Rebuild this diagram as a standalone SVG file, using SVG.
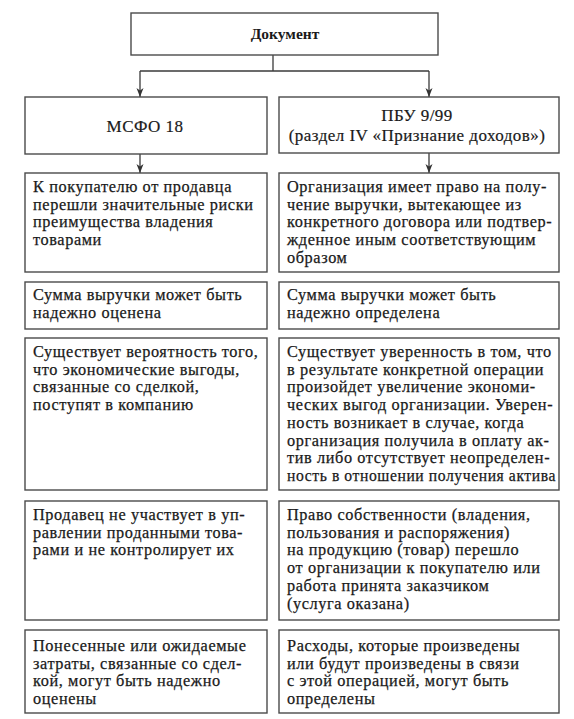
<svg xmlns="http://www.w3.org/2000/svg" width="574" height="719" viewBox="0 0 574 719">
<defs>
<marker id="arr" markerUnits="userSpaceOnUse" markerWidth="10" markerHeight="8" refX="9" refY="3.5" orient="auto">
<path d="M0,0 L9,3.5 L0,7 L2.5,3.5 z" fill="#333"/>
</marker>
<style>
.box{fill:#fff;stroke:#4a4a4a;stroke-width:1.4}
.t{font-size:16.3px;letter-spacing:0.6px;fill:#1a1a1a;stroke:#1a1a1a;stroke-width:0.25}
.h{font-size:17px;letter-spacing:0.45px;fill:#1a1a1a;stroke:#1a1a1a;stroke-width:0.2;text-anchor:middle}
.b{font-size:15.5px;font-weight:bold;fill:#1a1a1a;text-anchor:middle}
.c{fill:none;stroke:#3a3a3a;stroke-width:1.3}
</style>
</defs>
<rect width="574" height="719" fill="#fff"/>
<g id="connectors">
<path class="c" d="M273,55 V71"/>
<path class="c" d="M140,71 H429"/>
<path class="c" d="M140,71 V97" marker-end="url(#arr)"/>
<path class="c" d="M429,71 V97" marker-end="url(#arr)"/>
<path class="c" d="M140,154 V173" marker-end="url(#arr)"/>
<path class="c" d="M429,153 V173" marker-end="url(#arr)"/>
</g>
<g font-family="Liberation Serif, serif">
<g id="doc">
<rect class="box" x="131" y="13" width="307" height="42"/>
<text class="b" x="285" y="39">Документ</text>
</g>
<g id="ifrs">
<rect class="box" x="25" y="97" width="242" height="57"/>
<text class="h" x="145" y="132">МСФО 18</text>
</g>
<g id="pbu">
<rect class="box" x="279" y="97" width="280" height="56"/>
<text class="h" x="417" y="121">ПБУ 9/99</text>
<text class="h" x="417" y="141">(раздел IV «Признание доходов»)</text>
</g>
<g id="l1">
<rect class="box" x="25" y="173" width="242" height="99"/>
<text class="t" x="33" y="192"><tspan x="33">К покупателю от продавца</tspan><tspan x="33" dy="17.7">перешли значительные риски</tspan><tspan x="33" dy="17.7">преимущества владения</tspan><tspan x="33" dy="17.7">товарами</tspan></text>
</g>
<g id="r1">
<rect class="box" x="279" y="173" width="280" height="99"/>
<text class="t" x="287" y="192"><tspan x="287">Организация имеет право на полу-</tspan><tspan x="287" dy="17.7">чение выручки, вытекающее из</tspan><tspan x="287" dy="17.7">конкретного договора или подтвер-</tspan><tspan x="287" dy="17.7">жденное иным соответствующим</tspan><tspan x="287" dy="17.7">образом</tspan></text>
</g>
<g id="l2">
<rect class="box" x="25" y="282" width="242" height="47"/>
<text class="t" x="33" y="300"><tspan x="33">Сумма выручки может быть</tspan><tspan x="33" dy="17.7">надежно оценена</tspan></text>
</g>
<g id="r2">
<rect class="box" x="279" y="282" width="280" height="47"/>
<text class="t" x="287" y="300"><tspan x="287">Сумма выручки может быть</tspan><tspan x="287" dy="17.7">надежно определена</tspan></text>
</g>
<g id="l3">
<rect class="box" x="25" y="338" width="242" height="152"/>
<text class="t" x="33" y="357"><tspan x="33">Существует вероятность того,</tspan><tspan x="33" dy="17.7">что экономические выгоды,</tspan><tspan x="33" dy="17.7">связанные со сделкой,</tspan><tspan x="33" dy="17.7">поступят в компанию</tspan></text>
</g>
<g id="r3">
<rect class="box" x="279" y="338" width="280" height="152"/>
<text class="t" x="287" y="357"><tspan x="287">Существует уверенность в том, что</tspan><tspan x="287" dy="17.7">в результате конкретной операции</tspan><tspan x="287" dy="17.7">произойдет увеличение экономи-</tspan><tspan x="287" dy="17.7">ческих выгод организации. Уверен-</tspan><tspan x="287" dy="17.7">ность возникает в случае, когда</tspan><tspan x="287" dy="17.7">организация получила в оплату ак-</tspan><tspan x="287" dy="17.7">тив либо отсутствует неопределен-</tspan></text>
<text class="t" x="287" y="480.9" textLength="269" lengthAdjust="spacingAndGlyphs">ность в отношении получения актива</text>
</g>
<g id="l4">
<rect class="box" x="25" y="501" width="242" height="119"/>
<text class="t" x="33" y="520"><tspan x="33">Продавец не участвует в уп-</tspan><tspan x="33" dy="17.7">равлении проданными това-</tspan><tspan x="33" dy="17.7">рами и не контролирует их</tspan></text>
</g>
<g id="r4">
<rect class="box" x="279" y="501" width="280" height="119"/>
<text class="t" x="287" y="520"><tspan x="287">Право собственности (владения,</tspan><tspan x="287" dy="17.7">пользования и распоряжения)</tspan><tspan x="287" dy="17.7">на продукцию (товар) перешло</tspan><tspan x="287" dy="17.7">от организации к покупателю или</tspan><tspan x="287" dy="17.7">работа принята заказчиком</tspan><tspan x="287" dy="17.7">(услуга оказана)</tspan></text>
</g>
<g id="l5">
<rect class="box" x="25" y="630" width="242" height="83"/>
<text class="t" x="33" y="651"><tspan x="33">Понесенные или ожидаемые</tspan><tspan x="33" dy="17.7">затраты, связанные со сдел-</tspan><tspan x="33" dy="17.7">кой, могут быть надежно</tspan><tspan x="33" dy="17.7">оценены</tspan></text>
</g>
<g id="r5">
<rect class="box" x="279" y="630" width="280" height="83"/>
<text class="t" x="287" y="651"><tspan x="287">Расходы, которые произведены</tspan><tspan x="287" dy="17.7">или будут произведены в связи</tspan><tspan x="287" dy="17.7">с этой операцией, могут быть</tspan><tspan x="287" dy="17.7">определены</tspan></text>
</g>
</g>
</svg>
